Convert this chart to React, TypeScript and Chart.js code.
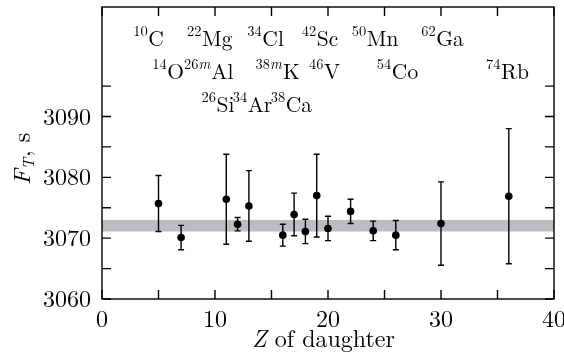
import React, { useEffect, useRef } from 'react';
import { Chart, registerables } from 'chart.js';

Chart.register(...registerables);

// Z of daughter nucleus for each superallowed transition
const daughterZ = [5, 7, 11, 12, 13, 16, 17, 18, 19, 20, 22, 24, 26, 30, 36];
// Corrected Ft values (s)
const ftValues = [3075.7, 3070.1, 3076.4, 3072.3, 3075.3, 3070.5, 3073.9, 3071.1, 3077.0, 3071.6, 3074.4, 3071.2, 3070.5, 3072.4, 3076.9];
// Uncertainties (s)
const ftErrors = [4.6, 2.0, 7.4, 1.1, 5.8, 1.8, 3.5, 2.0, 6.8, 2.0, 2.0, 1.6, 2.4, 6.85, 11.1];

// Average band
const bandLow = 3071.1;
const bandHigh = 3073.0;

// Axis ranges and tick marks
const xMin = 0;
const xMax = 40;
const yMin = 3060;
const yMax = 3108;
const xTickMarks = [0, 5, 10, 15, 20, 25, 30, 35, 40];
const yTickMarks = [3060, 3065, 3070, 3075, 3080, 3085, 3090, 3095];
const xTickLabels = [0, 10, 20, 30, 40];
const yTickLabels = [3060, 3070, 3080, 3090];

// Isotope labels (parent nuclei)
const isoMass = ['10', '22', '34', '42', '50', '62', '14', '26', '38', '46', '54', '74', '26', '34', '38'];
const isoMeta = ['', '', '', '', '', '', '', 'm', 'm', '', '', '', '', '', ''];
const isoElem = ['C', 'Mg', 'Cl', 'Sc', 'Mn', 'Ga', 'O', 'Al', 'K', 'V', 'Co', 'Rb', 'Si', 'Ar', 'Ca'];
const isoX = [4.12, 9.53, 14.48, 19.3, 24.16, 30.13, 5.86, 9.44, 15.54, 19.7, 26.15, 35.88, 10.26, 13.32, 16.76];
const isoY = [3101.6, 3101.6, 3101.6, 3101.6, 3101.6, 3101.6, 3096.2, 3096.2, 3096.2, 3096.2, 3096.2, 3096.2, 3090.8, 3090.8, 3090.8];

const FONT = "'Latin Modern Roman', 'CMU Serif', 'Liberation Serif', serif";

const decorPlugin = {
  id: 'decor',
  beforeDatasetsDraw(chart: any) {
    const { ctx, chartArea, scales } = chart;
    const xs = scales.x;
    const ys = scales.y;
    ctx.save();
    // band
    const yTop = ys.getPixelForValue(bandHigh);
    const yBot = ys.getPixelForValue(bandLow);
    ctx.fillStyle = '#bdbdc1';
    ctx.fillRect(chartArea.left, yTop, chartArea.right - chartArea.left, yBot - yTop);
    // error bars
    ctx.strokeStyle = '#000';
    ctx.lineWidth = 1.4;
    for (let i = 0; i < daughterZ.length; i++) {
      const px = xs.getPixelForValue(daughterZ[i]);
      const p1 = ys.getPixelForValue(ftValues[i] + ftErrors[i]);
      const p2 = ys.getPixelForValue(ftValues[i] - ftErrors[i]);
      ctx.beginPath();
      ctx.moveTo(px, p1);
      ctx.lineTo(px, p2);
      ctx.moveTo(px - 3, p1);
      ctx.lineTo(px + 3, p1);
      ctx.moveTo(px - 3, p2);
      ctx.lineTo(px + 3, p2);
      ctx.stroke();
    }
    ctx.restore();
  },
  afterDraw(chart: any) {
    const { ctx, chartArea, scales } = chart;
    const xs = scales.x;
    const ys = scales.y;
    const { left, right, top, bottom } = chartArea;
    ctx.save();
    ctx.strokeStyle = '#000';
    ctx.lineWidth = 1.4;
    ctx.strokeRect(left, top, right - left, bottom - top);
    const tl = 9;
    ctx.beginPath();
    for (const v of xTickMarks) {
      const px = xs.getPixelForValue(v);
      ctx.moveTo(px, bottom);
      ctx.lineTo(px, bottom - tl);
      ctx.moveTo(px, top);
      ctx.lineTo(px, top + tl);
    }
    for (const v of yTickMarks) {
      const py = ys.getPixelForValue(v);
      ctx.moveTo(left, py);
      ctx.lineTo(left + tl, py);
      ctx.moveTo(right, py);
      ctx.lineTo(right - tl, py);
    }
    ctx.stroke();

    ctx.fillStyle = '#000';
    ctx.textBaseline = 'alphabetic';

    // tick labels
    ctx.font = `24px ${FONT}`;
    ctx.textAlign = 'center';
    for (const v of xTickLabels) {
      ctx.fillText(String(v), xs.getPixelForValue(v), bottom + 27.5);
    }
    ctx.textAlign = 'right';
    for (const v of yTickLabels) {
      ctx.fillText(String(v), left - 11, ys.getPixelForValue(v) + 8);
    }
    ctx.textAlign = 'left';

    // isotope labels
    const supFont = `14.5px ${FONT}`;
    const supItFont = `italic 14.5px ${FONT}`;
    const mainFont = `21.5px ${FONT}`;
    for (let i = 0; i < isoElem.length; i++) {
      const cx = xs.getPixelForValue(isoX[i]);
      const by = ys.getPixelForValue(isoY[i]);
      ctx.font = supFont;
      const wMass = ctx.measureText(isoMass[i]).width;
      ctx.font = supItFont;
      const wMeta = isoMeta[i] ? ctx.measureText(isoMeta[i]).width + 0.5 : 0;
      ctx.font = mainFont;
      const wElem = ctx.measureText(isoElem[i]).width;
      const total = wMass + wMeta + 0.5 + wElem;
      let x = cx - total / 2;
      ctx.font = supFont;
      ctx.fillText(isoMass[i], x, by - 10);
      x += wMass;
      if (isoMeta[i]) {
        ctx.font = supItFont;
        ctx.fillText(isoMeta[i], x, by - 10);
        x += wMeta;
      }
      x += 0.5;
      ctx.font = mainFont;
      ctx.fillText(isoElem[i], x, by);
    }

    // x axis title
    const cxT = 323.5 - 328 + (left + right) / 2;
    ctx.font = `italic 24px ${FONT}`;
    const wZ = ctx.measureText('Z').width;
    ctx.font = `24px ${FONT}`;
    const wRest = ctx.measureText(' of daughter').width;
    const tx = cxT - (wZ + wRest) / 2;
    ctx.font = `italic 24px ${FONT}`;
    ctx.fillText('Z', tx, 347);
    ctx.font = `24px ${FONT}`;
    ctx.fillText(' of daughter', tx + wZ, 347);

    // y axis title
    ctx.save();
    ctx.translate(30, 159);
    ctx.rotate(-Math.PI / 2);
    ctx.font = `italic 24px ${FONT}`;
    const wF = ctx.measureText('F').width;
    ctx.font = `italic 16px ${FONT}`;
    const wT = ctx.measureText('T').width;
    ctx.font = `24px ${FONT}`;
    const wS = ctx.measureText(', s').width;
    const tot = wF + wT + 1 + wS;
    let yx = -tot / 2;
    ctx.font = `italic 24px ${FONT}`;
    ctx.fillText('F', yx, 0);
    yx += wF;
    ctx.font = `italic 16px ${FONT}`;
    ctx.fillText('T', yx, 4);
    yx += wT + 1;
    ctx.font = `24px ${FONT}`;
    ctx.fillText(', s', yx, 0);
    ctx.restore();

    ctx.restore();
  },
};

const zeroPadding = (scale: any) => {
  scale.paddingTop = 0;
  scale.paddingBottom = 0;
  scale.paddingLeft = 0;
  scale.paddingRight = 0;
};

export default function App() {
  const ref = useRef<HTMLCanvasElement | null>(null);
  useEffect(() => {
    document.body.style.margin = '0';
    const canvas = ref.current;
    if (!canvas) return;
    const points = daughterZ.map((z, i) => ({ x: z, y: ftValues[i] }));
    const chart = new Chart(canvas, {
      type: 'scatter',
      data: {
        datasets: [
          {
            data: points,
            pointRadius: 3.8,
            pointHoverRadius: 3.8,
            pointBackgroundColor: '#000',
            pointBorderColor: '#000',
            pointBorderWidth: 0,
          },
        ],
      },
      options: {
        animation: false,
        responsive: false,
        devicePixelRatio: 1,
        events: [],
        layout: { padding: { top: 7, right: 10, left: 0, bottom: 0 } },
        plugins: { legend: { display: false }, tooltip: { enabled: false } },
        scales: {
          x: {
            type: 'linear',
            min: xMin,
            max: xMax,
            grid: { display: false, drawTicks: false },
            border: { display: false },
            ticks: { display: false },
            afterFit: (scale: any) => {
              scale.height = 59;
              zeroPadding(scale);
            },
          },
          y: {
            type: 'linear',
            min: yMin,
            max: yMax,
            grid: { display: false, drawTicks: false },
            border: { display: false },
            ticks: { display: false },
            afterFit: (scale: any) => {
              scale.width = 102;
              zeroPadding(scale);
            },
          },
        },
      },
      plugins: [decorPlugin],
    });
    let alive = true;
    const fonts = (document as any).fonts;
    if (fonts && fonts.load) {
      Promise.all([
        fonts.load("24px 'Latin Modern Roman'"),
        fonts.load("italic 24px 'Latin Modern Roman'"),
      ]).then(() => {
        if (alive) chart.update();
      }).catch(() => {});
    }
    return () => {
      alive = false;
      chart.destroy();
    };
  }, []);
  return (
    <div style={{ position: 'absolute', left: 0, top: 0, width: 564, height: 358 }}>
      <canvas ref={ref} width={564} height={358} style={{ display: 'block' }} />
    </div>
  );
}
